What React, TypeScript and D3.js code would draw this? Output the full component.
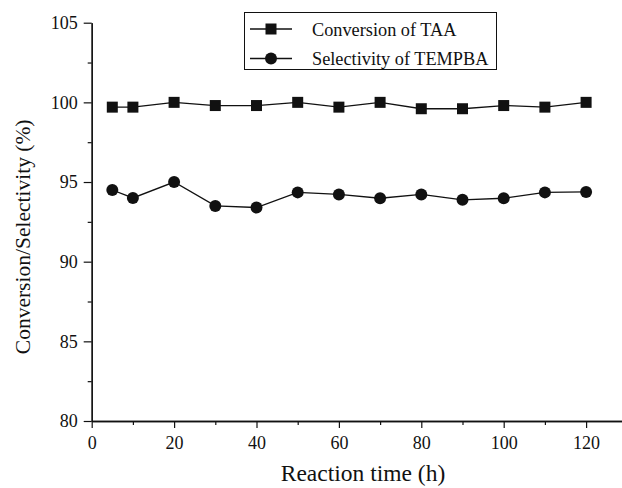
import React, { useRef, useEffect } from "react";
import * as d3 from "d3";

// reaction time (h)
const times = [5, 10, 20, 30, 40, 50, 60, 70, 80, 90, 100, 110, 120];
// Conversion of TAA (%)
const conversion = [99.7, 99.7, 100, 99.8, 99.8, 100, 99.7, 100, 99.6, 99.6, 99.8, 99.7, 100];
// Selectivity of TEMPBA (%)
const selectivity = [94.5, 94.0, 95.0, 93.5, 93.4, 94.35, 94.22, 93.98, 94.22, 93.88, 93.98, 94.35, 94.38];

const xTicks = [0, 20, 40, 60, 80, 100, 120];
const yTicks = [80, 85, 90, 95, 100, 105];
const legendLabels = ["Conversion of TAA", "Selectivity of TEMPBA"];

const App = () => {
  const svgRef = useRef<SVGSVGElement>(null);

  useEffect(() => {
    const x0 = 91.7;
    const font = "Liberation Serif, serif";
    const ink = "#111";

    const svg = d3.select(svgRef.current);
    svg.selectAll("*").remove();

    const xScale = d3.scaleLinear().domain([0, 130]).range([x0, x0 + 130 * 4.12]);
    const yScale = d3.scaleLinear().domain([80, 105]).range([421, 22.7]);

    // x axis: minor ticks then major ticks
    const xAxisG = svg.append("g").attr("transform", `translate(0,${yScale(80)})`);
    xAxisG
      .append("g")
      .call(
        d3.axisBottom(xScale)
          .tickValues(d3.range(10, 130, 20))
          .tickSize(4)
          .tickSizeOuter(0)
          .tickFormat(() => "")
      );
    xAxisG
      .append("g")
      .call(d3.axisBottom(xScale).tickValues(xTicks).tickSize(7).tickSizeOuter(0).tickPadding(8));

    // y axis
    const yAxisG = svg.append("g").attr("transform", `translate(${x0},0)`);
    yAxisG
      .append("g")
      .call(
        d3.axisLeft(yScale)
          .tickValues(d3.range(82.5, 105, 5))
          .tickSize(4)
          .tickSizeOuter(0)
          .tickFormat(() => "")
      );
    yAxisG
      .append("g")
      .call(d3.axisLeft(yScale).tickValues(yTicks).tickSize(8).tickSizeOuter(0).tickPadding(6));

    svg.selectAll("g").attr("font-family", font);
    svg.selectAll(".domain").attr("stroke", ink).attr("stroke-width", 1.3);
    svg.selectAll(".tick line").attr("stroke", ink).attr("stroke-width", 1.2);
    svg
      .selectAll(".tick text")
      .attr("fill", ink)
      .attr("font-family", font)
      .attr("font-size", 18);

    // axis titles
    svg
      .append("text")
      .attr("x", 363)
      .attr("y", 481)
      .attr("text-anchor", "middle")
      .attr("fill", ink)
      .attr("font-family", font)
      .attr("font-size", 23.5)
      .text("Reaction time (h)");

    svg
      .append("text")
      .attr("transform", `translate(30,${(yScale(80) + yScale(105)) / 2 + 15}) rotate(-90)`)
      .attr("text-anchor", "middle")
      .attr("fill", ink)
      .attr("font-family", font)
      .attr("font-size", 21.5)
      .text("Conversion/Selectivity (%)");

    const line = d3
      .line<number>()
      .x((_, i) => xScale(times[i]))
      .y((d) => yScale(d));

    // conversion series (squares)
    svg
      .append("path")
      .datum(conversion)
      .attr("fill", "none")
      .attr("stroke", ink)
      .attr("stroke-width", 1.3)
      .attr("d", line);
    svg
      .selectAll(".sq")
      .data(conversion)
      .enter()
      .append("rect")
      .attr("x", (_, i) => xScale(times[i]) - 5.5)
      .attr("y", (d) => yScale(d) - 5.5)
      .attr("width", 11)
      .attr("height", 11)
      .attr("fill", ink);

    // selectivity series (circles)
    svg
      .append("path")
      .datum(selectivity)
      .attr("fill", "none")
      .attr("stroke", ink)
      .attr("stroke-width", 1.3)
      .attr("d", line);
    svg
      .selectAll(".ci")
      .data(selectivity)
      .enter()
      .append("circle")
      .attr("cx", (_, i) => xScale(times[i]))
      .attr("cy", (d) => yScale(d))
      .attr("r", 6)
      .attr("fill", ink);

    // legend
    const lg = svg.append("g");
    lg.append("rect")
      .attr("x", 244.5)
      .attr("y", 12.5)
      .attr("width", 252)
      .attr("height", 57)
      .attr("fill", "white")
      .attr("stroke", ink)
      .attr("stroke-width", 1);

    legendLabels.forEach((label, i) => {
      const cy = 29 + i * 29.5;
      lg.append("line")
        .attr("x1", 250)
        .attr("x2", 292)
        .attr("y1", cy)
        .attr("y2", cy)
        .attr("stroke", ink)
        .attr("stroke-width", 1.3);
      if (i === 0) {
        lg.append("rect")
          .attr("x", 271 - 5.5)
          .attr("y", cy - 5.5)
          .attr("width", 11)
          .attr("height", 11)
          .attr("fill", ink);
      } else {
        lg.append("circle").attr("cx", 271).attr("cy", cy).attr("r", 6).attr("fill", ink);
      }
      lg.append("text")
        .attr("x", 312)
        .attr("y", cy + 6.5)
        .attr("fill", ink)
        .attr("font-family", font)
        .attr("font-size", 18.3)
        .text(label);
    });
  }, []);

  return (
    <svg
      ref={svgRef}
      width={622}
      height={488}
      style={{ position: "absolute", left: 0, top: 0, background: "white" }}
    ></svg>
  );
};

export default App;
